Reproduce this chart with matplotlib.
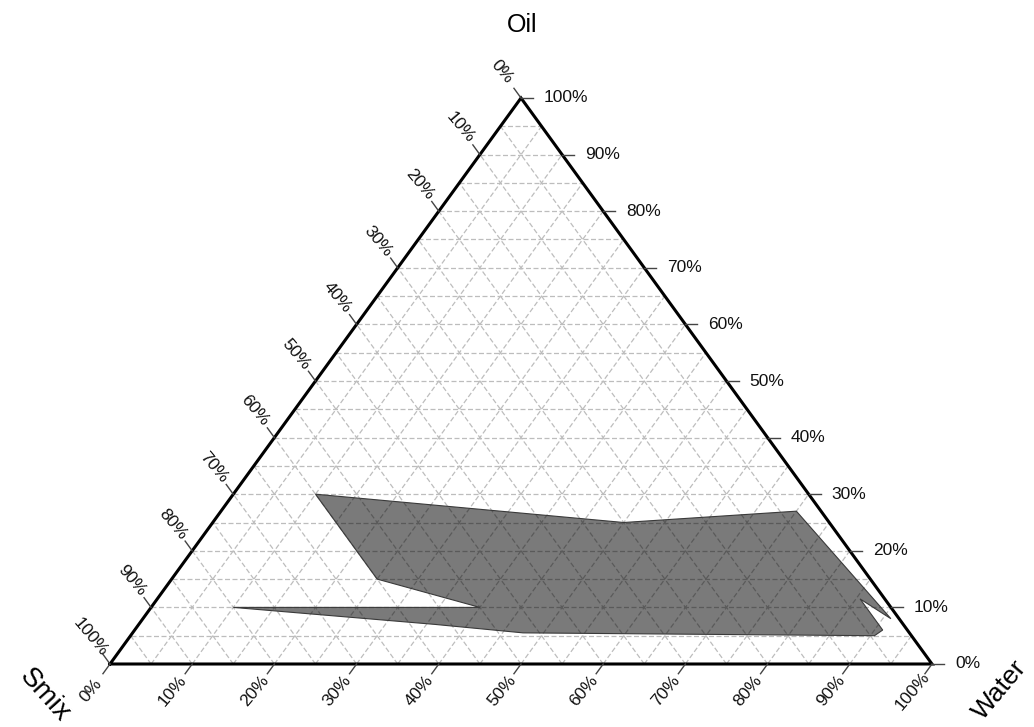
import numpy as np
import matplotlib
matplotlib.use("Agg")
import matplotlib.pyplot as plt
from matplotlib.patches import Polygon

plt.rcParams['font.family'] = ['Liberation Sans', 'DejaVu Sans']

# microemulsion region, as (water, oil) fractions; smix = 1 - water - oil
region_water = [0.10, 0.50, 0.70, 0.91, 0.855, 0.91, 0.905, 0.475, 0.36, 0.10, 0.40, 0.25]
region_oil = [0.30, 0.25, 0.27, 0.08, 0.115, 0.06, 0.05, 0.055, 0.07, 0.10, 0.10, 0.15]

tick_values = np.arange(0, 101, 10)
tick_labels = ["%d%%" % v for v in tick_values]
grid_steps = np.arange(5, 100, 5) / 100

H = np.sqrt(3) / 2


def to_xy(w, o):
    w = np.asarray(w, dtype=float)
    o = np.asarray(o, dtype=float)
    return w + o / 2, o * H


fig = plt.figure(figsize=(10.34, 7.27), dpi=100)
ax = fig.add_axes([110 / 1034, 63 / 727, 822 / 1034, 566 / 727])
ax.set_xlim(0, 1)
ax.set_ylim(0, H)
ax.axis("off")

# grid lines every 5 %
gkw = dict(color="#bdbdbd", lw=0.9, ls=(0, (4, 2)), zorder=1)
for k in grid_steps:
    x, y = to_xy([0, 1 - k], [k, k])          # constant oil
    ax.plot(x, y, **gkw)
    x, y = to_xy([k, k], [0, 1 - k])          # constant water
    ax.plot(x, y, **gkw)
    x, y = to_xy([1 - k, 0], [0, 1 - k])      # constant smix
    ax.plot(x, y, **gkw)

# phase region
px, py = to_xy(region_water, region_oil)
ax.add_patch(Polygon(np.column_stack([px, py]), closed=True,
                     facecolor=(0, 0, 0, 0.52), edgecolor="#3a3a3a",
                     lw=0.8, zorder=2))

# triangle frame
fx, fy = to_xy([0, 1, 0, 0], [0, 0, 1, 0])
ax.plot(fx, fy, color="black", lw=2.2, zorder=3, clip_on=False,
        solid_joinstyle="miter")

# directions (data units per pixel) for ticks and labels
edge_px = np.hypot(411, 566)
up_left = np.array([-0.5, H]) / edge_px       # parallel to right edge
down_left = np.array([-0.5, -H]) / edge_px    # parallel to left edge
right = np.array([1 / 822, 0])

tkw = dict(color="#444444", lw=1.0, zorder=3, clip_on=False)
lkw = dict(fontsize=12.5, color="#111111", clip_on=False)
for v, lab in zip(tick_values / 100, tick_labels):
    # oil (right edge)
    bx, by = to_xy(1 - v, v)
    ax.plot([bx, bx + 12 * right[0]], [by, by], **tkw)
    ax.text(bx + 23 * right[0], by, lab, ha="left", va="center", **lkw)
    # smix (left edge), 0 at apex
    bx, by = to_xy(0, 1 - v)
    ax.plot([bx, bx + 12 * up_left[0]], [by, by + 12 * up_left[1]], **tkw)
    ax.text(bx + 33 * up_left[0], by + 33 * up_left[1], lab, rotation=-50,
            ha="center", va="center", rotation_mode="anchor", **lkw)
    # water (bottom edge)
    bx, by = to_xy(v, 0)
    ax.plot([bx, bx + 12 * down_left[0]], [by, by + 12 * down_left[1]], **tkw)
    ax.text(bx + 33 * down_left[0], by + 33 * down_left[1], lab, rotation=50,
            ha="center", va="center", rotation_mode="anchor", **lkw)

# axis titles
fig.text(522 / 1034, 1 - 25 / 727, "Oil", fontsize=18, ha="center", va="center")
fig.text(45 / 1034, 1 - 695 / 727, "Smix", fontsize=20, rotation=-48,
         ha="center", va="center")
fig.text(1000 / 1034, 1 - 690 / 727, "Water", fontsize=19, rotation=50,
         ha="center", va="center")

fig.savefig("out.png", dpi=100)
